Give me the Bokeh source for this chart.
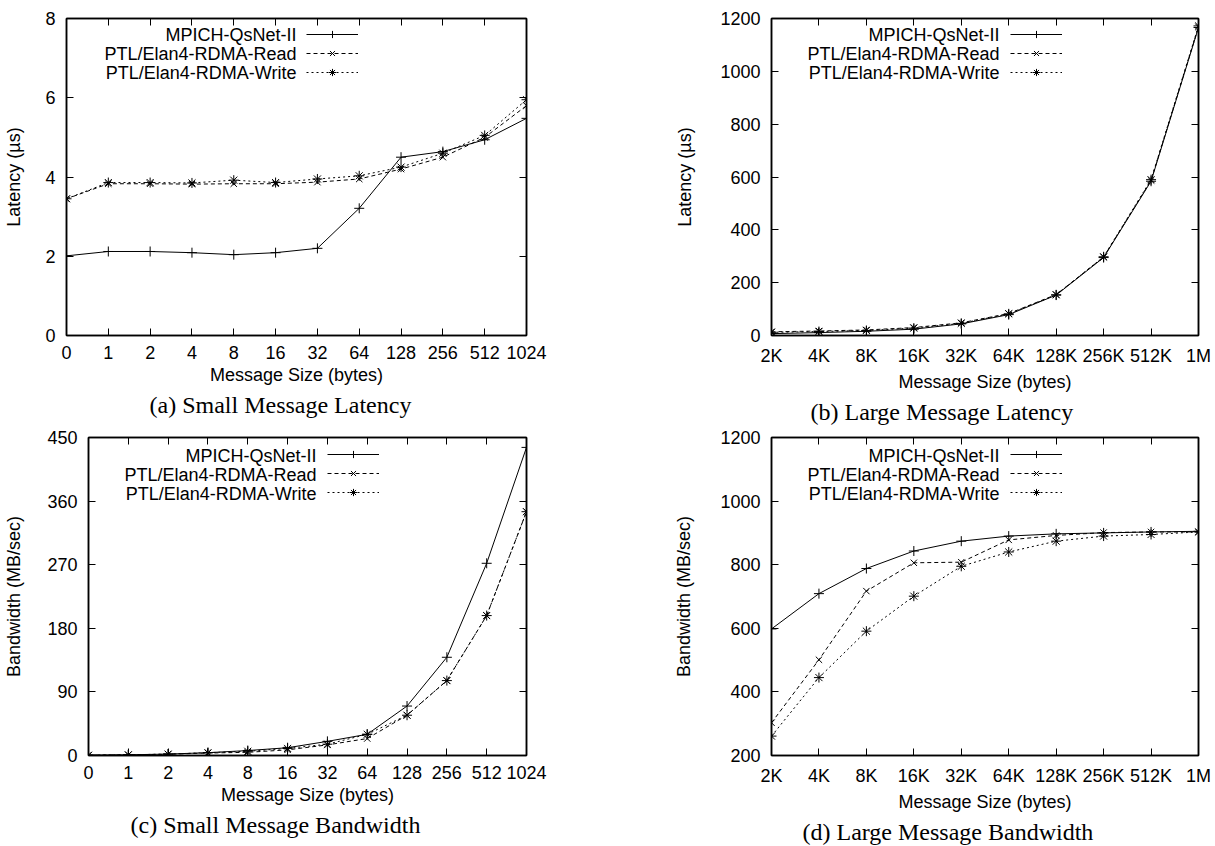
from bokeh.plotting import figure
from bokeh.models import Range1d, FixedTicker, LinearAxis, Label, Legend, LegendItem, Title
from bokeh.layouts import column, row
from bokeh.core.properties import value
from bokeh.embed import file_html
from bokeh.resources import INLINE

SANS = "Liberation Sans"
SERIF = "Liberation Serif"

# ---------------- data ----------------
series_names = ["MPICH-QsNet-II", "PTL/Elan4-RDMA-Read", "PTL/Elan4-RDMA-Write"]
small_sizes = ["0", "1", "2", "4", "8", "16", "32", "64", "128", "256", "512", "1024"]
large_sizes = ["2K", "4K", "8K", "16K", "32K", "64K", "128K", "256K", "512K", "1M"]

# (a) small message latency (us)
small_lat_mpich = [2.01, 2.12, 2.12, 2.09, 2.04, 2.09, 2.20, 3.21, 4.50, 4.64, 4.94, 5.48]
small_lat_read = [3.45, 3.83, 3.83, 3.82, 3.83, 3.83, 3.87, 3.95, 4.20, 4.50, 5.00, 5.80]
small_lat_write = [3.45, 3.86, 3.86, 3.85, 3.92, 3.86, 3.95, 4.03, 4.25, 4.60, 5.05, 5.95]

# (b) large message latency (us)
large_lat_mpich = [7, 11, 16, 24, 44, 79, 153, 295, 584, 1166]
large_lat_read = [14, 17, 21, 30, 48, 83, 155, 297, 587, 1168]
large_lat_write = [12, 15, 19, 28, 46, 82, 154, 298, 590, 1172]

# (c) small message bandwidth (MB/sec)
small_bw_mpich = [0.5, 1, 2, 4, 7, 11, 20, 30, 70, 139, 272, 436]
small_bw_read = [0.4, 0.9, 1.8, 3.5, 4.5, 8, 15, 24, 57, 106, 198, 345]
small_bw_write = [0.4, 1, 2, 4, 6, 10, 16, 30, 57, 106, 198, 345]

# (d) large message bandwidth (MB/sec)
large_bw_mpich = [598, 709, 788, 843, 874, 890, 897, 900, 903, 905]
large_bw_read = [303, 501, 717, 806, 808, 878, 892, 901, 903, 903]
large_bw_write = [261, 445, 591, 701, 795, 840, 874, 890, 895, 903]

lat_ticks_small = [0, 2, 4, 6, 8]
lat_ticks_large = [0, 200, 400, 600, 800, 1000, 1200]
bw_ticks_small = [0, 90, 180, 270, 360, 450]
bw_ticks_large = [200, 400, 600, 800, 1000, 1200]

STYLES = [
    dict(dash="solid", marker="cross", size=10),
    dict(dash="4 3", marker="x", size=9),
    dict(dash="2 3", marker="asterisk", size=10),
]


def style_axis(ax, ticks, labels=None, show_labels=True):
    ax.ticker = FixedTicker(ticks=list(ticks))
    ax.major_tick_in = 7
    ax.major_tick_out = 0
    ax.minor_tick_line_color = None
    ax.axis_line_width = 1.5
    ax.axis_line_color = "black"
    ax.major_tick_line_color = "black"
    ax.major_tick_line_width = 1
    if show_labels:
        ax.major_label_text_font = SANS
        ax.major_label_text_font_size = "18px"
        ax.major_label_text_color = "black"
        if labels is not None:
            ax.major_label_overrides = {int(t): l for t, l in zip(ticks, labels)}
    else:
        ax.major_label_overrides = {int(t): "" for t in ticks}
        ax.major_label_text_font_size = "0px"
        ax.major_label_standoff = 0


def make_panel(width, height, borders, xlabels, series, yr, yticks, ylabel,
               ylabel_standoff, caption, cap_offset, legend_xy, text_xy):
    n = len(xlabels)
    xs = list(range(n))
    p = figure(width=width, height=height, output_backend="svg", toolbar_location=None,
               x_range=Range1d(0, n - 1), y_range=Range1d(yr[0], yr[1]),
               min_border_left=borders[0], min_border_right=borders[1],
               min_border_top=borders[2], min_border_bottom=borders[3],
               x_axis_label="Message Size (bytes)", y_axis_label=ylabel)
    p.grid.visible = False
    p.outline_line_color = "black"
    p.outline_line_width = 1.5
    p.background_fill_color = "white"
    p.border_fill_color = "white"

    style_axis(p.xaxis[0], xs, xlabels)
    style_axis(p.yaxis[0], yticks, [str(t) for t in yticks])
    p.xaxis[0].major_label_standoff = 10
    p.xaxis[0].axis_label_standoff = 3
    p.yaxis[0].major_label_standoff = 11
    p.yaxis[0].axis_label_standoff = ylabel_standoff
    for ax in (p.xaxis[0], p.yaxis[0]):
        ax.axis_label_text_font = SANS
        ax.axis_label_text_font_size = "18px"
        ax.axis_label_text_font_style = "normal"
        ax.axis_label_text_color = "black"

    top = LinearAxis()
    style_axis(top, xs, show_labels=False)
    p.add_layout(top, "above")
    right = LinearAxis()
    style_axis(right, yticks, show_labels=False)
    p.add_layout(right, "right")

    items = []
    for ys, st in zip(series, STYLES):
        l = p.line(xs, ys, line_color="black", line_width=1, line_dash=st["dash"])
        s = p.scatter(xs, ys, marker=st["marker"], size=st["size"],
                      line_color="black", fill_color=None, line_width=1)
        items.append(LegendItem(label=value(" "), renderers=[l, s]))

    leg = Legend(items=items, location=legend_xy, orientation="vertical",
                 glyph_width=52, glyph_height=18, label_width=0, label_height=18,
                 label_standoff=0, spacing=1, padding=0, margin=0,
                 border_line_color=None, background_fill_alpha=0,
                 label_text_font_size="8px")
    p.add_layout(leg)

    tx, ty = text_xy
    for i, name in enumerate(series_names):
        p.add_layout(Label(x=tx, y=ty - 19 * i, x_units="screen", y_units="screen",
                           text=name, text_align="right", text_baseline="middle",
                           text_font=SANS, text_font_size="18px", text_color="black"))

    cap = Title(text=caption, align="left", offset=cap_offset, standoff=4,
                text_font=SERIF, text_font_size="24px", text_font_style="normal",
                text_color="black", vertical_align="bottom")
    p.add_layout(cap, "below")
    return p


pa = make_panel(600, 427, (66, 74, 18, 92), small_sizes,
                [small_lat_mpich, small_lat_read, small_lat_write],
                (0, 8), lat_ticks_small, "Latency (\u00b5s)", 18,
                "(a) Small Message Latency", 83, (240, 254), (230, 301))
pb = make_panel(615, 427, (171, 17, 18, 92), large_sizes,
                [large_lat_mpich, large_lat_read, large_lat_write],
                (0, 1200), lat_ticks_large, "Latency (\u00b5s)", 22,
                "(b) Large Message Latency", 39, (239, 254), (228, 301))
pc = make_panel(600, 419, (88, 74, 10, 91), small_sizes,
                [small_bw_mpich, small_bw_read, small_bw_write],
                (0, 450), bw_ticks_small, "Bandwidth (MB/sec)", 20,
                "(c) Small Message Bandwidth", 42, (239, 254), (228, 300))
pd_ = make_panel(615, 419, (171, 17, 10, 91), large_sizes,
                 [large_bw_mpich, large_bw_read, large_bw_write],
                 (200, 1200), bw_ticks_large, "Bandwidth (MB/sec)", 23,
                 "(d) Large Message Bandwidth", 31, (239, 254), (228, 300))

layout = column(row(pa, pb), row(pc, pd_))
open("out.html", "w").write(file_html(layout, INLINE))
